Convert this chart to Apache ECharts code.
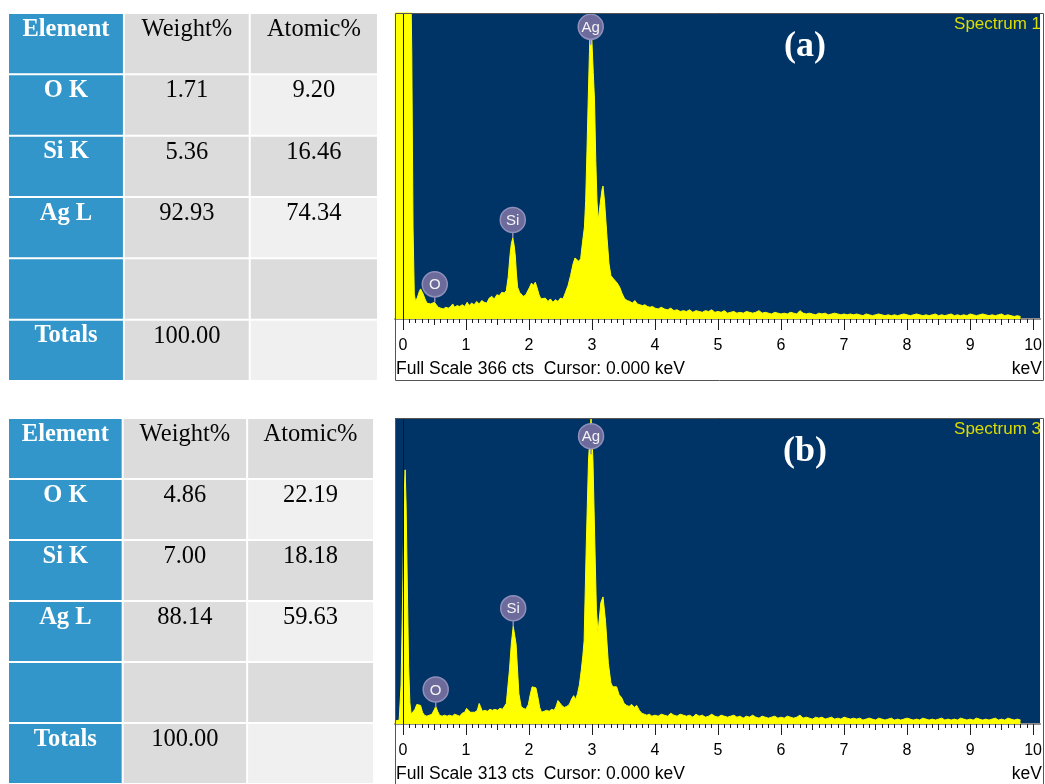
<!DOCTYPE html>
<html>
<head>
<meta charset="utf-8">
<title>EDS spectra</title>
<script src="https://cdn.jsdelivr.net/npm/echarts@6/dist/echarts.min.js"></script>
<style>
  html, body { margin: 0; padding: 0; background: #ffffff; }
  #chart { width: 1045px; height: 784px; }
</style>
</head>
<body>
<div id="chart"></div>
<script>
// ---------- quantification tables ----------
const tableHeader = ['Element', 'Weight%', 'Atomic%'];
const tableElements = ['O K', 'Si K', 'Ag L', '', 'Totals'];
const weightA = ['1.71', '5.36', '92.93', '', '100.00'];
const atomicA = ['9.20', '16.46', '74.34', '', ''];
const weightB = ['4.86', '7.00', '88.14', '', '100.00'];
const atomicB = ['22.19', '18.18', '59.63', '', ''];

// ---------- spectrum axis ticks (keV) ----------
const majorTicks = [0, 1, 2, 3, 4, 5, 6, 7, 8, 9, 10];
const halfTicks = [0.5, 1.5, 2.5, 3.5, 4.5, 5.5, 6.5, 7.5, 8.5, 9.5];

// ---------- spectrum 1: full scale and counts ----------
const fullScaleA = 366;
// low-energy region, [energy keV, counts]
const peaksA = [
  [-0.13, 480], [0.00, 520], [0.12, 430], [0.14, 320], [0.16, 110], [0.18, 30], [0.20, 21],
  [0.23, 26], [0.26, 33], [0.28, 36], [0.30, 35], [0.32, 30], [0.35, 24], [0.38, 19],
  [0.41, 17], [0.44, 18], [0.47, 16], [0.50, 20], [0.53, 17], [0.56, 14], [0.60, 13],
  [0.64, 12], [0.68, 14], [0.72, 13], [0.76, 15], [0.79, 18], [0.82, 14], [0.86, 16],
  [0.90, 15], [0.94, 17], [0.98, 15], [1.02, 20], [1.05, 16], [1.09, 19], [1.13, 17],
  [1.17, 21], [1.21, 18], [1.25, 22], [1.29, 20], [1.33, 19], [1.37, 25], [1.41, 27],
  [1.45, 24], [1.49, 29], [1.53, 28], [1.57, 32], [1.61, 31], [1.64, 34], [1.67, 50],
  [1.70, 77], [1.72, 90], [1.743, 97], [1.765, 88], [1.785, 74], [1.80, 55], [1.82, 38],
  [1.85, 32], [1.875, 30], [1.91, 27], [1.95, 29], [1.98, 31], [2.01, 38], [2.04, 43],
  [2.07, 40], [2.10, 44], [2.13, 37], [2.16, 29], [2.19, 24], [2.22, 22], [2.26, 25],
  [2.30, 21], [2.34, 24], [2.38, 20], [2.42, 23], [2.46, 21], [2.50, 25], [2.54, 24],
  [2.58, 32], [2.62, 40], [2.66, 52], [2.70, 66], [2.73, 73], [2.76, 74], [2.79, 69],
  [2.82, 72], [2.85, 92], [2.88, 110], [2.90, 142], [2.92, 200], [2.94, 262], [2.96, 320],
  [2.98, 366], [3.00, 330], [3.02, 295], [3.04, 262], [3.06, 190], [3.08, 140], [3.10, 118],
  [3.13, 138], [3.16, 155], [3.175, 159], [3.20, 140], [3.24, 96], [3.27, 66], [3.30, 52],
  [3.33, 49], [3.36, 47], [3.40, 43], [3.44, 38], [3.48, 30], [3.52, 24], [3.56, 22],
  [3.60, 21], [3.64, 19], [3.68, 22], [3.72, 18], [3.76, 17], [3.80, 16], [3.84, 17],
  [3.88, 15], [3.92, 14], [3.96, 15]
];
// high-energy tail, one reading every 0.05 keV from 4.00 keV
const tailA = [
  13, 12, 14, 12, 11, 13, 10, 11, 9, 10, 9, 11, 8, 10, 9, 8, 10, 9, 11, 8,
  9, 8, 10, 7, 8, 9, 7, 8, 7, 9, 8, 7, 8, 10, 7, 8, 7, 6, 8, 7,
  6, 7, 6, 8, 7, 6, 10, 7, 6, 7, 6, 5, 7, 6, 7, 5, 6, 7, 6, 5,
  6, 5, 6, 5, 6, 5, 4, 6, 5, 4, 5, 6, 5, 4, 5, 4, 5, 4, 5, 6,
  5, 4, 5, 6, 5, 4, 5, 4, 5, 6, 4, 5, 4, 5, 6, 4, 5, 4, 5, 4,
  6, 5, 4, 5, 6, 5, 4, 5, 4, 5, 6, 4, 5, 4, 3, 4, 3
];
const peakLabelsA = [
  { name: 'O', energy: 0.505, counts: 20 },
  { name: 'Si', energy: 1.743, counts: 97 },
  { name: 'Ag', energy: 2.98, counts: 328 }
];

// ---------- spectrum 3: full scale and counts ----------
const fullScaleB = 313;
const peaksB = [
  [-0.13, 3], [-0.06, 4], [-0.03, 40], [0.00, 150], [0.02, 235], [0.035, 260], [0.05, 225],
  [0.07, 140], [0.09, 60], [0.11, 22], [0.13, 10], [0.16, 9], [0.19, 15], [0.22, 20],
  [0.25, 22], [0.28, 19], [0.31, 12], [0.34, 9], [0.38, 8], [0.42, 9], [0.46, 10],
  [0.50, 15], [0.52, 18], [0.55, 13], [0.58, 9], [0.62, 8], [0.66, 9], [0.70, 8],
  [0.74, 9], [0.78, 8], [0.82, 10], [0.86, 9], [0.90, 8], [0.94, 11], [0.98, 12],
  [1.01, 16], [1.04, 15], [1.07, 12], [1.10, 11], [1.14, 12], [1.18, 14], [1.21, 21],
  [1.23, 18], [1.26, 13], [1.30, 14], [1.34, 13], [1.38, 15], [1.42, 14], [1.46, 15],
  [1.50, 14], [1.54, 16], [1.58, 15], [1.61, 16], [1.64, 21], [1.69, 55], [1.72, 82],
  [1.75, 100], [1.795, 82], [1.84, 31], [1.875, 18], [1.91, 16], [1.95, 15], [1.99, 20],
  [2.02, 30], [2.05, 38], [2.08, 39], [2.11, 37], [2.14, 28], [2.17, 17], [2.20, 12],
  [2.24, 13], [2.28, 14], [2.32, 13], [2.36, 15], [2.40, 14], [2.43, 18], [2.46, 24],
  [2.49, 23], [2.52, 19], [2.56, 17], [2.60, 18], [2.64, 20], [2.68, 26], [2.71, 29],
  [2.74, 25], [2.77, 31], [2.80, 40], [2.83, 55], [2.855, 70], [2.875, 85], [2.91, 185],
  [2.945, 270], [2.985, 313], [3.015, 270], [3.045, 185], [3.07, 117], [3.095, 93],
  [3.14, 124], [3.175, 130], [3.215, 105], [3.26, 62], [3.30, 42], [3.33, 38], [3.36, 36],
  [3.39, 38], [3.43, 30], [3.47, 27], [3.51, 21], [3.55, 19], [3.59, 18], [3.63, 20],
  [3.67, 17], [3.71, 19], [3.75, 14], [3.79, 11], [3.83, 10], [3.87, 9], [3.91, 10],
  [3.95, 8]
];
const tailB = [
  9, 8, 10, 9, 8, 11, 9, 8, 10, 9, 8, 9, 7, 10, 8, 9, 7, 8, 10, 8,
  7, 9, 8, 7, 8, 9, 7, 8, 6, 8, 7, 9, 7, 6, 8, 7, 6, 7, 8, 6,
  7, 6, 8, 7, 6, 7, 9, 6, 7, 6, 5, 7, 6, 7, 5, 6, 7, 5, 6, 5,
  7, 6, 5, 6, 5, 6, 4, 5, 6, 5, 4, 6, 5, 4, 5, 6, 4, 5, 4, 5,
  6, 5, 4, 5, 4, 6, 5, 4, 5, 4, 5, 6, 4, 5, 4, 5, 4, 6, 5, 4,
  5, 4, 6, 5, 4, 5, 4, 5, 6, 4, 5, 4, 6, 5, 4, 5, 4
];
const peakLabelsB = [
  { name: 'O', energy: 0.52, counts: 17 },
  { name: 'Si', energy: 1.75, counts: 100 },
  { name: 'Ag', energy: 2.985, counts: 276 }
];

const TAIL_START = 4.0;
const CHANNEL_STEP = 0.05;

// ---------- helpers ----------
function spectrumSeriesData(peaks, tail) {
  const tailPairs = tail.map((c, i) => [Number((TAIL_START + i * CHANNEL_STEP).toFixed(2)), c]);
  return peaks.concat(tailPairs);
}

function tableCells(weights, atomics) {
  const cells = [];
  const columns = [[tableHeader[0]].concat(tableElements),
                   [tableHeader[1]].concat(weights),
                   [tableHeader[2]].concat(atomics)];
  for (let r = 0; r < 6; r++) {
    for (let c = 0; c < 3; c++) {
      cells.push({ value: [c, r], text: columns[c][r] });
    }
  }
  return cells;
}

// column boundaries of the tables, in axis units
const TABLE_COL_EDGES = [0, 0.94, 1.96, 3];
const BLUE = '#3396ca';
const GREY = '#dcdcdc';
const LIGHT = '#f0f0f0';

function makeTableRenderer(cells) {
  return function (params, api) {
    const col = api.value(0);
    const row = api.value(1);
    const cell = cells[params.dataIndex];
    const x0 = api.coord([TABLE_COL_EDGES[col], row])[0];
    const x1 = api.coord([TABLE_COL_EDGES[col + 1], row])[0];
    const y0 = api.coord([0, row])[1];
    const y1 = api.coord([0, row + 1])[1];
    let fill = GREY;
    if (col === 0) fill = BLUE;
    else if (col === 2 && row % 2 === 1) fill = LIGHT;
    const children = [{
      type: 'rect',
      shape: { x: x0 + 1, y: y0 + 1, width: x1 - x0 - 2, height: y1 - y0 - 2 },
      style: { fill: fill }
    }];
    if (cell.text) {
      children.push({
        type: 'text',
        style: {
          text: cell.text,
          x: (x0 + x1) / 2,
          y: y0 + 4,
          align: 'center',
          verticalAlign: 'top',
          font: (col === 0 ? 'bold ' : '') + '24.5px "Liberation Serif", "Times New Roman", serif',
          fill: col === 0 ? '#ffffff' : '#050505'
        }
      });
    }
    return { type: 'group', children: children };
  };
}

function makeBadgeRenderer(labels) {
  return function (params, api) {
    const p = api.coord([api.value(0), api.value(1)]);
    const name = labels[params.dataIndex].name;
    const cy = p[1] - 18;
    return {
      type: 'group',
      children: [
        { type: 'line', shape: { x1: p[0], y1: p[1], x2: p[0], y2: cy + 10 },
          style: { stroke: '#8d8cb6', lineWidth: 1.5 } },
        { type: 'circle', shape: { cx: p[0], cy: cy, r: 12.5 },
          style: { fill: '#6c6b9b', stroke: '#9190bb', lineWidth: 1.5 } },
        { type: 'text', style: { text: name, x: p[0], y: cy + 1, align: 'center', verticalAlign: 'middle',
          font: '15px "Liberation Sans", Arial, sans-serif', fill: '#f4f4f4' } }
      ]
    };
  };
}

const minorTicks = [];
for (let i = 1; i < 100; i++) {
  if (i % 5 !== 0) minorTicks.push(i / 10);
}

const X_MIN = -0.126;
const X_MAX = 10.11;

function spectrumAxes(gridIndex) {
  return [
    {
      type: 'value', gridIndex: gridIndex, min: X_MIN, max: X_MAX, position: 'bottom',
      axisLine: { show: true, onZero: false, lineStyle: { color: '#8c8c8c', width: 2 } },
      axisTick: { show: true, customValues: majorTicks, length: 11, lineStyle: { color: '#1e1e1e', width: 1 } },
      axisLabel: { show: true, customValues: majorTicks, margin: 19, color: '#000',
        fontFamily: '"Liberation Sans", Arial, sans-serif', fontSize: 16,
        formatter: v => String(Math.round(v)) },
      splitLine: { show: false }
    },
    {
      type: 'value', gridIndex: gridIndex, min: X_MIN, max: X_MAX, position: 'bottom',
      axisLine: { show: false, onZero: false },
      axisTick: { show: true, customValues: halfTicks, length: 6, lineStyle: { color: '#1e1e1e', width: 1 } },
      axisLabel: { show: false }, splitLine: { show: false }
    },
    {
      type: 'value', gridIndex: gridIndex, min: X_MIN, max: X_MAX, position: 'bottom',
      axisLine: { show: false, onZero: false },
      axisTick: { show: true, customValues: minorTicks, length: 4, lineStyle: { color: '#1e1e1e', width: 1 } },
      axisLabel: { show: false }, splitLine: { show: false }
    }
  ];
}

const cellsA = tableCells(weightA, atomicA);
const cellsB = tableCells(weightB, atomicB);

const NAVY = '#003366';
const YELLOW = '#ffff00';
const SANS = '"Liberation Sans", Arial, sans-serif';

function spectrumSeries(xAxisIndex, yAxisIndex, peaks, tail, labels) {
  return [
    {
      type: 'line', xAxisIndex: xAxisIndex, yAxisIndex: yAxisIndex,
      data: spectrumSeriesData(peaks, tail),
      showSymbol: false, symbol: 'none', clip: true,
      lineStyle: { color: YELLOW, width: 1 },
      areaStyle: { color: YELLOW, opacity: 1 },
      markLine: {
        silent: true, symbol: 'none', animation: false,
        label: { show: false },
        lineStyle: { color: '#141414', width: 1, type: 'solid' },
        data: [{ xAxis: 0 }]
      },
      z: 2
    },
    {
      type: 'custom', xAxisIndex: xAxisIndex, yAxisIndex: yAxisIndex,
      clip: false,
      renderItem: makeBadgeRenderer(labels),
      data: labels.map(l => [l.energy, l.counts]),
      z: 5
    }
  ];
}

function panelGraphics(top, tag, spectrumName, fullScale) {
  return [
    { type: 'rect', shape: { x: 395.5, y: top + 0.5, width: 648, height: 367 },
      style: { fill: 'none', stroke: '#555555', lineWidth: 1 }, z: 10 },
    { type: 'text', style: { text: tag, x: 805, y: top + 34, align: 'center', verticalAlign: 'middle',
      font: 'bold 36px "Liberation Serif", "Times New Roman", serif', fill: '#ffffff' }, z: 10 },
    { type: 'text', style: { text: spectrumName, x: 1041, y: top + 11, align: 'right', verticalAlign: 'middle',
      font: '17px ' + SANS, fill: '#dcdc00' }, z: 10 },
    { type: 'text', style: { text: 'Full Scale ' + fullScale + ' cts  Cursor: 0.000 keV', x: 396, y: top + 356,
      align: 'left', verticalAlign: 'middle', font: '17.5px ' + SANS, fill: '#000000' }, z: 10 },
    { type: 'text', style: { text: 'keV', x: 1042, y: top + 356, align: 'right', verticalAlign: 'middle',
      font: '17.5px ' + SANS, fill: '#000000' }, z: 10 }
  ];
}

const chart = echarts.init(document.getElementById('chart'), null, { renderer: 'canvas' });

chart.setOption({
  animation: false,
  backgroundColor: '#ffffff',
  grid: [
    { left: 8, top: 13, width: 370, height: 368 },
    { left: 8, top: 418, width: 366, height: 368 },
    { left: 395, top: 13, width: 649, height: 306, show: true, backgroundColor: NAVY, borderWidth: 0 },
    { left: 395, top: 418, width: 649, height: 306, show: true, backgroundColor: NAVY, borderWidth: 0 }
  ],
  xAxis: [
    { type: 'value', gridIndex: 0, min: 0, max: 3, show: false },
    { type: 'value', gridIndex: 1, min: 0, max: 3, show: false }
  ].concat(spectrumAxes(2), spectrumAxes(3)),
  yAxis: [
    { type: 'value', gridIndex: 0, min: 0, max: 6, inverse: true, show: false },
    { type: 'value', gridIndex: 1, min: 0, max: 6, inverse: true, show: false },
    { type: 'value', gridIndex: 2, min: 0, max: fullScaleA, show: false },
    { type: 'value', gridIndex: 3, min: 0, max: fullScaleB, show: false }
  ],
  series: [
    { type: 'custom', xAxisIndex: 0, yAxisIndex: 0, clip: false,
      renderItem: makeTableRenderer(cellsA), data: cellsA.map(c => c.value) },
    { type: 'custom', xAxisIndex: 1, yAxisIndex: 1, clip: false,
      renderItem: makeTableRenderer(cellsB), data: cellsB.map(c => c.value) }
  ].concat(
    spectrumSeries(2, 2, peaksA, tailA, peakLabelsA),
    spectrumSeries(5, 3, peaksB, tailB, peakLabelsB)
  ),
  graphic: panelGraphics(13, '(a)', 'Spectrum 1', fullScaleA)
    .concat(panelGraphics(418, '(b)', 'Spectrum 3', fullScaleB))
});
</script>
</body>
</html>
